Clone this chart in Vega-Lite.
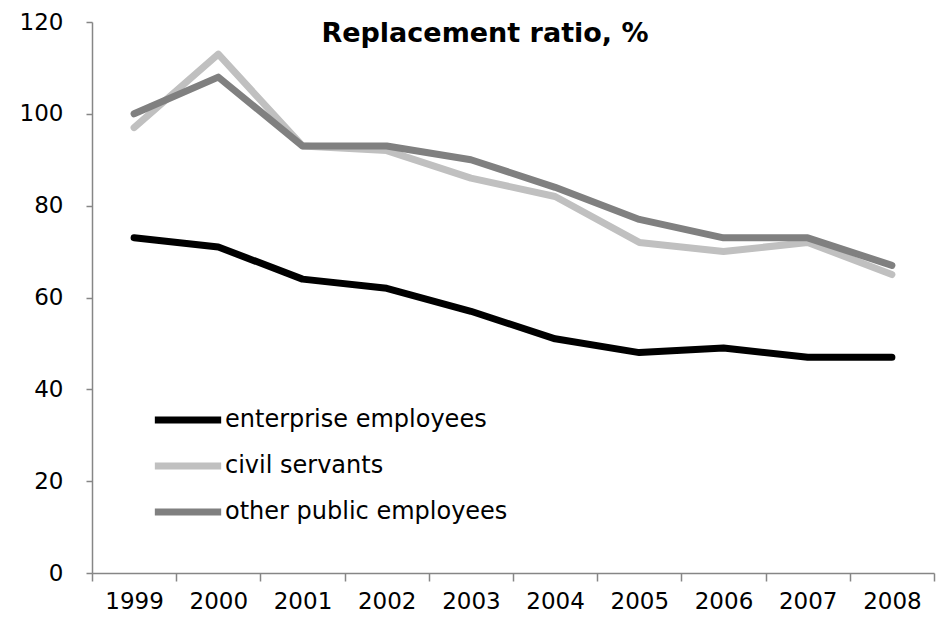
{
  "$schema": "https://vega.github.io/schema/vega-lite/v6.json",
  "autosize": {"type": "none"},
  "width": 842,
  "height": 551,
  "padding": {"left": 92, "top": 22, "right": 8, "bottom": 53},
  "background": "white",
  "title": {
    "text": "Replacement ratio, %",
    "font": "DejaVu Sans",
    "fontSize": 27,
    "fontWeight": "bold",
    "color": "black",
    "anchor": "middle",
    "frame": "group",
    "baseline": "alphabetic",
    "offset": -58,
    "dx": -28
  },
  "config": {
    "view": {"stroke": null},
    "font": "DejaVu Sans"
  },
  "data": {
    "values": [
      {"year": "1999", "series": "enterprise employees", "value": 73},
      {"year": "2000", "series": "enterprise employees", "value": 71},
      {"year": "2001", "series": "enterprise employees", "value": 64},
      {"year": "2002", "series": "enterprise employees", "value": 62},
      {"year": "2003", "series": "enterprise employees", "value": 57},
      {"year": "2004", "series": "enterprise employees", "value": 51},
      {"year": "2005", "series": "enterprise employees", "value": 48},
      {"year": "2006", "series": "enterprise employees", "value": 49},
      {"year": "2007", "series": "enterprise employees", "value": 47},
      {"year": "2008", "series": "enterprise employees", "value": 47},
      {"year": "1999", "series": "civil servants", "value": 97},
      {"year": "2000", "series": "civil servants", "value": 113},
      {"year": "2001", "series": "civil servants", "value": 93},
      {"year": "2002", "series": "civil servants", "value": 92},
      {"year": "2003", "series": "civil servants", "value": 86},
      {"year": "2004", "series": "civil servants", "value": 82},
      {"year": "2005", "series": "civil servants", "value": 72},
      {"year": "2006", "series": "civil servants", "value": 70},
      {"year": "2007", "series": "civil servants", "value": 72},
      {"year": "2008", "series": "civil servants", "value": 65},
      {"year": "1999", "series": "other public employees", "value": 100},
      {"year": "2000", "series": "other public employees", "value": 108},
      {"year": "2001", "series": "other public employees", "value": 93},
      {"year": "2002", "series": "other public employees", "value": 93},
      {"year": "2003", "series": "other public employees", "value": 90},
      {"year": "2004", "series": "other public employees", "value": 84},
      {"year": "2005", "series": "other public employees", "value": 77},
      {"year": "2006", "series": "other public employees", "value": 73},
      {"year": "2007", "series": "other public employees", "value": 73},
      {"year": "2008", "series": "other public employees", "value": 67}
    ]
  },
  "mark": {"type": "line", "strokeWidth": 7, "strokeCap": "round", "strokeJoin": "round"},
  "encoding": {
    "x": {
      "field": "year",
      "type": "ordinal",
      "scale": {"type": "band", "paddingInner": 0, "paddingOuter": 0},
      "axis": {
        "title": null,
        "labelAngle": 0,
        "labelFont": "DejaVu Sans",
        "labelFontSize": 23,
        "labelColor": "black",
        "labelPadding": 9,
        "tickBand": "extent",
        "tickSize": 8,
        "tickColor": "#868686",
        "domainColor": "#868686",
        "tickWidth": 1.5,
        "domainWidth": 1.5
      }
    },
    "y": {
      "field": "value",
      "type": "quantitative",
      "scale": {"domain": [0, 120], "nice": false},
      "axis": {
        "title": null,
        "values": [0, 20, 40, 60, 80, 100, 120],
        "grid": false,
        "labelFont": "DejaVu Sans",
        "labelFontSize": 23,
        "labelColor": "black",
        "labelPadding": 23,
        "tickSize": 6,
        "tickColor": "#868686",
        "domainColor": "#868686",
        "tickWidth": 1.5,
        "domainWidth": 1.5
      }
    },
    "color": {
      "field": "series",
      "type": "nominal",
      "sort": ["enterprise employees", "civil servants", "other public employees"],
      "scale": {
        "domain": ["enterprise employees", "civil servants", "other public employees"],
        "range": ["#000000", "#c0c0c0", "#808080"]
      },
      "legend": {
        "title": null,
        "orient": "none",
        "legendX": 59,
        "legendY": 375,
        "symbolType": "stroke",
        "symbolSize": 4400,
        "symbolStrokeWidth": 7,
        "labelFont": "DejaVu Sans",
        "labelFontSize": 24,
        "labelColor": "black",
        "labelOffset": 0,
        "labelLimit": 500,
        "clipHeight": 46,
        "rowPadding": 0
      }
    }
  }
}
